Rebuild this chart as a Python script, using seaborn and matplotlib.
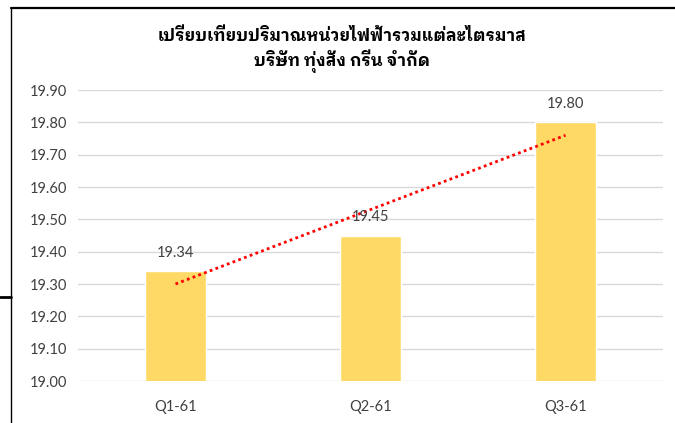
import matplotlib
matplotlib.use("Agg")
import numpy as np
import pandas as pd
import matplotlib.pyplot as plt
import seaborn as sns
from matplotlib.lines import Line2D

# data
quarters = ["Q1-61", "Q2-61", "Q3-61"]
units = [19.34, 19.45, 19.80]
title_text = "เปรียบเทียบปริมาณหน่วยไฟฟ้ารวมแต่ละไตรมาส\nบริษัท ทุ่งสัง กรีน จำกัด"

sns.set_style("white")
plt.rcParams['font.family'] = ['Lato', 'DejaVu Sans']
thai_fonts = ['IBM Plex Sans Thai Looped', 'Sarabun', 'DejaVu Sans']

df = pd.DataFrame({"quarter": quarters, "units": units})

fig = plt.figure(figsize=(6.75, 4.23), dpi=100)
ax = fig.add_axes([78 / 675, 1 - 381 / 423, 585 / 675, 291 / 423])

sns.barplot(data=df, x="quarter", y="units", color="#FFD966", width=0.31,
            saturation=1, ax=ax, zorder=2)

# linear trend line
xs = np.arange(len(units))
a, b = np.polyfit(xs, units, 1)
ax.plot(xs, a * xs + b, color="#FF0000", linestyle=(0, (1, 1.2)), lw=2,
        zorder=3)

ax.set_ylim(19.0, 19.9)
ax.set_xlim(-0.5, 2.5)
ax.set_yticks(np.arange(19.0, 19.91, 0.1))
ax.set_yticklabels([f"{v:.2f}" for v in np.arange(19.0, 19.91, 0.1)])
ax.grid(axis="y", color="#D9D9D9", lw=1, zorder=0)
ax.set_axisbelow(True)
for s in ax.spines.values():
    s.set_visible(False)
ax.tick_params(length=0, labelsize=10.5, colors="#404040", pad=8)
ax.tick_params(axis="x", pad=14)
ax.set_xlabel("")
ax.set_ylabel("")

for i, v in enumerate(units):
    ax.annotate(f"{v:.2f}", (i, v), xytext=(0, 8), textcoords="offset points",
                ha="center", va="bottom", fontsize=10.5, color="#404040")

fig.text(0.507, 0.936, title_text, ha="center", va="top", fontsize=12,
         fontweight="bold", family=thai_fonts, color="#000000",
         linespacing=1.35)

# frame edges visible in the screenshot
fig.add_artist(Line2D([10.5 / 675, 1], [1 - 8 / 423, 1 - 8 / 423],
                      transform=fig.transFigure, color="black", lw=1.6))
fig.add_artist(Line2D([10.5 / 675, 10.5 / 675], [0, 1 - 8 / 423],
                      transform=fig.transFigure, color="black", lw=1))
fig.add_artist(Line2D([0, 10.5 / 675], [1 - 297 / 423, 1 - 297 / 423],
                      transform=fig.transFigure, color="black", lw=2))

fig.savefig("out.png", dpi=100)
